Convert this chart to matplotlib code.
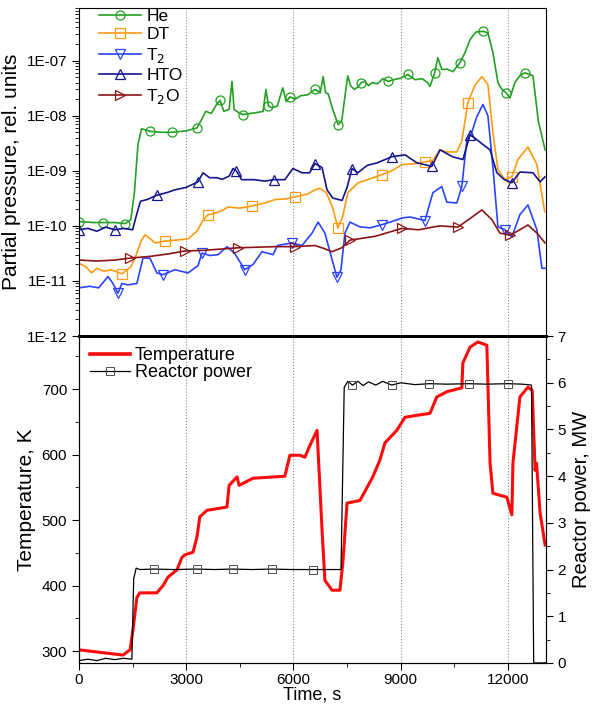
import numpy as np
import matplotlib.pyplot as plt
from matplotlib.ticker import FuncFormatter, LogLocator, MultipleLocator, NullFormatter
from matplotlib.lines import Line2D

plt.rcParams['font.family'] = ['Liberation Sans', 'DejaVu Sans']

# ---- partial pressures (top panel) ----
t_he = [0, 400, 670, 1000, 1300, 1450, 1550, 1650, 1750, 1990, 2300, 2600, 3000, 3300, 3450,
        3550, 3700, 3850, 3950, 4050, 4200, 4280, 4340, 4500, 4600, 4800, 5000, 5150, 5230,
        5300, 5400, 5550, 5700, 5800, 5900, 6050, 6200, 6400, 6600, 6750, 6830, 6900, 6970,
        7100, 7250, 7350, 7450, 7520, 7600, 7700, 7800, 7900, 8000, 8100, 8200, 8350, 8500,
        8650, 8800, 9000, 9200, 9400, 9600, 9750, 9820, 9950, 10040, 10150, 10300, 10460,
        10650, 10800, 10940, 11100, 11300, 11440, 11580, 11720, 11830, 11950, 12055, 12195,
        12350, 12475, 12700, 12850, 13040]
he = [1.2e-10, 1.15e-10, 1.15e-10, 1.15e-10, 1.1e-10, 1.3e-10, 4e-10, 3e-9, 5.8e-9, 5.2e-9,
      5.0e-9, 5.0e-9, 5.3e-9, 6.0e-9, 9e-9, 1.2e-8, 1.1e-8, 1.6e-8, 1.9e-8, 1.2e-8, 1.3e-8,
      4.2e-8, 1.3e-8, 1.1e-8, 1.05e-8, 1.1e-8, 1.15e-8, 1.2e-8, 3.0e-8, 1.5e-8, 1.4e-8,
      1.5e-8, 3.2e-8, 1.8e-8, 2.2e-8, 2.0e-8, 2.3e-8, 2.4e-8, 3.0e-8, 2.6e-8, 5.1e-8, 2.6e-8,
      2.5e-8, 1.3e-8, 6.9e-9, 8e-9, 2.5e-8, 5.3e-8, 3.5e-8, 3.0e-8, 3.3e-8, 4.0e-8, 4.2e-8,
      3.5e-8, 4.0e-8, 3.8e-8, 4.7e-8, 4.2e-8, 4.5e-8, 4.8e-8, 5.6e-8, 4.5e-8, 4.7e-8, 4.0e-8,
      3.4e-8, 6e-8, 1.13e-7, 6.9e-8, 7e-8, 6.3e-8, 9e-8, 1.4e-7, 2.4e-7, 3.3e-7, 3.4e-7,
      3.2e-7, 1.4e-7, 4.0e-8, 3.0e-8, 2.6e-8, 2.1e-8, 4.0e-8, 5.5e-8, 6.0e-8, 5.3e-8, 8e-9,
      2.4e-9]

t_dt = [0, 200, 350, 500, 700, 900, 1200, 1450, 1600, 1750, 1850, 2000, 2130, 2400, 2700,
        3050, 3300, 3450, 3600, 3800, 4000, 4170, 4500, 4840, 5200, 5480, 5800, 6040, 6400,
        6600, 6740, 6920, 7100, 7244, 7380, 7520, 7800, 8100, 8470, 8750, 9030, 9400, 9680,
        9900, 10100, 10300, 10570, 10710, 10880, 11080, 11270, 11440, 11580, 11720, 11915,
        12110, 12280, 12560, 12810, 13030]
dt = [2.1e-11, 1.8e-11, 1.4e-11, 1.7e-11, 1.5e-11, 1.6e-11, 1.35e-11, 1.8e-11, 3e-11, 5.5e-11,
      6.9e-11, 5.8e-11, 4.9e-11, 5.3e-11, 5.5e-11, 5.8e-11, 8e-11, 1.2e-10, 1.58e-10, 1.7e-10,
      1.9e-10, 2.2e-10, 2.1e-10, 2.3e-10, 2.6e-10, 3.0e-10, 3.1e-10, 3.35e-10, 3.8e-10, 4.5e-10,
      4.8e-10, 4.0e-10, 2.1e-10, 9.1e-11, 1.5e-10, 4e-10, 6e-10, 7e-10, 8.5e-10, 1.0e-9,
      1.29e-9, 1.35e-9, 1.45e-9, 1.55e-9, 2.4e-9, 2.2e-9, 2.2e-9, 3.5e-9, 1.73e-8, 3.6e-8,
      5.1e-8, 3.7e-8, 4.9e-9, 1.05e-9, 6.9e-10, 7.8e-10, 1.6e-9, 2.7e-9, 1.3e-9, 1.8e-10]

t_t2 = [0, 300, 550, 810, 950, 1090, 1200, 1370, 1620, 1790, 1985, 2180, 2350, 2685, 3050,
        3330, 3440, 3660, 3890, 4140, 4350, 4640, 4870, 5120, 5430, 5550, 5960, 6240, 6520,
        6690, 6880, 7020, 7215, 7330, 7440, 7580, 7860, 8140, 8470, 8700, 9060, 9260, 9680,
        9900, 10150, 10290, 10570, 10710, 10850, 10990, 11130, 11300, 11440, 11580, 11720,
        11915, 12110, 12335, 12560, 12810, 12950, 13040]
t2 = [7.5e-12, 8e-12, 7.5e-12, 1.2e-11, 9e-12, 6e-12, 9e-12, 8.5e-12, 9e-12, 2.6e-11, 2.6e-11,
      1.4e-11, 1.3e-11, 1.6e-11, 1.4e-11, 1.9e-11, 3.2e-11, 2.9e-11, 3.0e-11, 4.2e-11, 3.2e-11,
      1.6e-11, 2.0e-11, 3.4e-11, 3.0e-11, 4.4e-11, 4.9e-11, 4.4e-11, 7.4e-11, 1.17e-10,
      7.4e-11, 3.4e-11, 1.17e-11, 1.6e-11, 7.4e-11, 1.17e-10, 9.6e-11, 9.2e-11, 1.05e-10,
      1.17e-10, 1.4e-10, 1.45e-10, 1.25e-10, 4e-10, 5.2e-10, 2.7e-10, 2.6e-10, 5.2e-10, 3.6e-9,
      5e-9, 9.6e-9, 1.6e-8, 1.0e-8, 1.17e-9, 9.6e-11, 8.5e-11, 6.3e-11, 1.6e-10, 2.4e-10,
      8.5e-11, 1.7e-11, 1.7e-11]

t_hto = [0, 250, 500, 750, 1000, 1250, 1500, 1600, 1720, 1900, 2180, 2450, 2680, 3000, 3330,
         3470, 3650, 3850, 4000, 4200, 4310, 4400, 4550, 4900, 5200, 5450, 5760, 5985, 6240,
         6450, 6600, 6800, 6940, 7100, 7360, 7500, 7640, 7800, 8060, 8350, 8750, 9120, 9450,
         9870, 10100, 10450, 10740, 10940, 11150, 11300, 11500, 11690, 11900, 12110, 12335,
         12700, 12900, 13040]
hto = [8.5e-11, 9e-11, 8e-11, 9.5e-11, 8.5e-11, 9e-11, 8.5e-11, 1.5e-10, 2.8e-10, 3.0e-10,
       3.6e-10, 4.0e-10, 4.5e-10, 5.0e-10, 6.3e-10, 9.2e-10, 7.5e-10, 7.5e-10, 7e-10, 8e-10,
       1.1e-9, 1.0e-9, 6.9e-10, 6.9e-10, 6.5e-10, 6.9e-10, 6.9e-10, 1.1e-9, 9.2e-10, 9.2e-10,
       1.35e-9, 1.15e-9, 4.5e-10, 3.2e-10, 2.9e-10, 5e-10, 1.1e-9, 9.2e-10, 1.25e-9, 1.4e-9,
       1.8e-9, 1.95e-9, 1.4e-9, 1.2e-9, 2.4e-9, 1.8e-9, 1.6e-9, 4.5e-9, 3.6e-9, 3.0e-9, 2.4e-9,
       9.2e-10, 6.9e-10, 6.1e-10, 9.5e-10, 9.2e-10, 6.3e-10, 7.8e-10]

t_t2o = [0, 500, 1000, 1430, 2000, 2500, 2960, 3500, 4450, 5500, 6040, 6600, 6850, 7080, 7350,
         7580, 8300, 9030, 9500, 9900, 10100, 10600, 11000, 11270, 11550, 11775, 12060, 12335,
         12560, 12810, 13040]
t2o = [2.4e-11, 2.3e-11, 2.4e-11, 2.6e-11, 2.8e-11, 3.1e-11, 3.5e-11, 3.6e-11, 4.0e-11,
       4.2e-11, 4.2e-11, 4.4e-11, 3.9e-11, 3.4e-11, 4.0e-11, 5.5e-11, 6.5e-11, 9.0e-11, 8.5e-11,
       9.5e-11, 1.0e-10, 9.5e-11, 1.45e-10, 1.95e-10, 1.3e-10, 7.4e-11, 6.8e-11, 8.5e-11,
       1.04e-10, 7.4e-11, 4.9e-11]

# ---- temperature and reactor power (bottom panel) ----
t_temp = [0, 1230, 1430, 1510, 1620, 1700, 2180, 2350, 2490, 2740, 2880, 2960, 3190, 3300,
          3380, 3580, 4140, 4200, 4420, 4480, 4870, 5760, 5900, 6180, 6320, 6460, 6660, 6800,
          6880, 7080, 7300, 7380, 7500, 7860, 8060, 8220, 8420, 8560, 8890, 9120, 9450, 9820,
          10010, 10290, 10710, 10740, 10940, 11160, 11410, 11500, 11580, 11970, 12110, 12140,
          12335, 12560, 12680, 12760, 12800, 12900, 13040]
temp = [302, 294, 302, 332, 382, 389, 389, 400, 413, 424, 443, 447, 451, 474, 505, 515, 520,
        553, 566, 553, 564, 567, 599, 599, 596, 614, 637, 485, 408, 393, 393, 434, 526, 530,
        550, 566, 592, 618, 637, 657, 660, 663, 688, 696, 702, 740, 764, 772, 767, 587, 541,
        535, 508, 587, 688, 703, 698, 576, 587, 511, 462]

t_pow = [0, 250, 500, 750, 1000, 1250, 1480, 1530, 1600, 1700, 2100, 2650, 3300, 3800, 4300,
         4850, 5400, 5950, 6550, 7000, 7330, 7420, 7520, 7650, 7800, 7950, 8100, 8300, 8500,
         8750, 9000, 9400, 9800, 10300, 10900, 11400, 12000, 12400, 12660, 12720, 13060]
power = [0.05, 0.08, 0.05, 0.1, 0.07, 0.1, 0.08, 1.8, 2.03, 2.0, 2.01, 2.0, 2.01, 2.0, 2.01,
         2.0, 2.01, 2.0, 2.0, 2.0, 2.0, 5.9, 6.03, 5.95, 6.03, 5.94, 6.02, 5.95, 6.03, 5.95, 6.0,
         5.96, 5.98, 5.97, 5.98, 5.97, 5.98, 5.97, 5.95, 0.0, 0.0]


def marks(t, start, step):
    # pick the data points closest to evenly spaced times
    t = np.asarray(t)
    return sorted({int(np.abs(t - m).argmin()) for m in np.arange(start, t[-1], step)})


fig = plt.figure(figsize=(5.92, 7.06), dpi=100)
ax1 = fig.add_axes([0.1334, 0.524, 0.7886, 0.4646])
ax2 = fig.add_axes([0.1334, 0.061, 0.7886, 0.463])
ax3 = ax2.twinx()

series = [
    (t_he, he, '#22a022', 'o', 'He', 30, 660),
    (t_dt, dt, '#ff9a10', 's', 'DT', 1200, 1210),
    (t_t2, t2, '#2a44ff', 'v', 'T$_2$', 1090, 1210),
    (t_hto, hto, '#14148c', '^', 'HTO', 0, 1100),
    (t_t2o, t2o, '#8c1414', '>', 'T$_2$O', 1430, 1530),
]
for t, v, c, m, lab, s0, ds in series:
    ax1.plot(t, v, color=c, lw=1.2, marker=m, ms=6.5, mfc='none', mec=c, mew=0.9,
             markevery=marks(t, s0, ds), label=lab)

ax1.set_yscale('log')
ax1.set_ylim(1e-12, 9e-7)
ax1.set_xlim(0, 13060)
ax1.yaxis.set_major_locator(LogLocator(base=10, numticks=12))
ax1.yaxis.set_minor_locator(LogLocator(base=10, subs=np.arange(2, 10), numticks=12))
ax1.yaxis.set_minor_formatter(NullFormatter())
ax1.yaxis.set_major_formatter(FuncFormatter(lambda v, p: '1E-%02d' % round(-np.log10(v))))
ax1.xaxis.set_major_locator(MultipleLocator(3000))
ax1.tick_params(axis='x', which='both', length=0, labelbottom=False)
ax1.tick_params(axis='y', which='major', length=5, labelsize=11)
ax1.tick_params(axis='y', which='minor', length=3)
ax1.grid(axis='x', which='major', ls=':', color='0.55', lw=0.8)
ax1.set_ylabel('Partial pressure, rel. units', fontsize=15)
ax1.spines['bottom'].set_linewidth(2)
ax1.legend(loc='upper left', frameon=False, fontsize=12.5, handlelength=2.4,
           borderaxespad=0.1, labelspacing=0.2, handletextpad=0.3,
           bbox_to_anchor=(0.025, 1.025))

ax2.plot(t_temp, temp, color='#ff0a0a', lw=2.2)
ax3.plot(t_pow, power, color='black', lw=0.9, marker='s', ms=6, mfc='none', mec='0.3',
         mew=0.7, markevery=marks(t_pow, 2100, 1100)[:10])
ax2.set_xlim(0, 13060)
ax2.set_ylim(282, 781)
ax3.set_ylim(0, 7)
ax2.xaxis.set_major_locator(MultipleLocator(3000))
ax2.xaxis.set_minor_locator(MultipleLocator(1500))
ax2.yaxis.set_major_locator(MultipleLocator(100))
ax2.yaxis.set_minor_locator(MultipleLocator(50))
ax3.yaxis.set_major_locator(MultipleLocator(1))
ax3.yaxis.set_minor_locator(MultipleLocator(0.5))
ax2.tick_params(which='major', length=5, labelsize=11)
ax2.tick_params(which='minor', length=3)
ax2.tick_params(axis='x', which='major', pad=2)
ax3.tick_params(which='major', length=5, labelsize=11)
ax3.tick_params(which='minor', length=3)
ax2.grid(axis='x', which='major', ls=':', color='0.55', lw=0.8)
ax2.spines['top'].set_linewidth(2)
ax3.spines['top'].set_linewidth(2)
ax2.set_ylabel('Temperature, K', fontsize=15)
ax3.set_ylabel('Reactor power, MW', fontsize=14.5, labelpad=4)
ax2.set_xlabel('Time, s', fontsize=13, labelpad=0)

handles = [Line2D([], [], color='#ff0a0a', lw=2.6),
           Line2D([], [], color='black', lw=0.9, marker='s', ms=6, mfc='none', mec='0.3',
                  mew=0.7)]
ax2.legend(handles, ['Temperature', 'Reactor power'], loc='upper left', frameon=False,
           fontsize=13, handlelength=2.2, labelspacing=0.0, handletextpad=0.3,
           borderaxespad=0.2, bbox_to_anchor=(0.0, 1.0))

fig.savefig('out.png', dpi=100)
